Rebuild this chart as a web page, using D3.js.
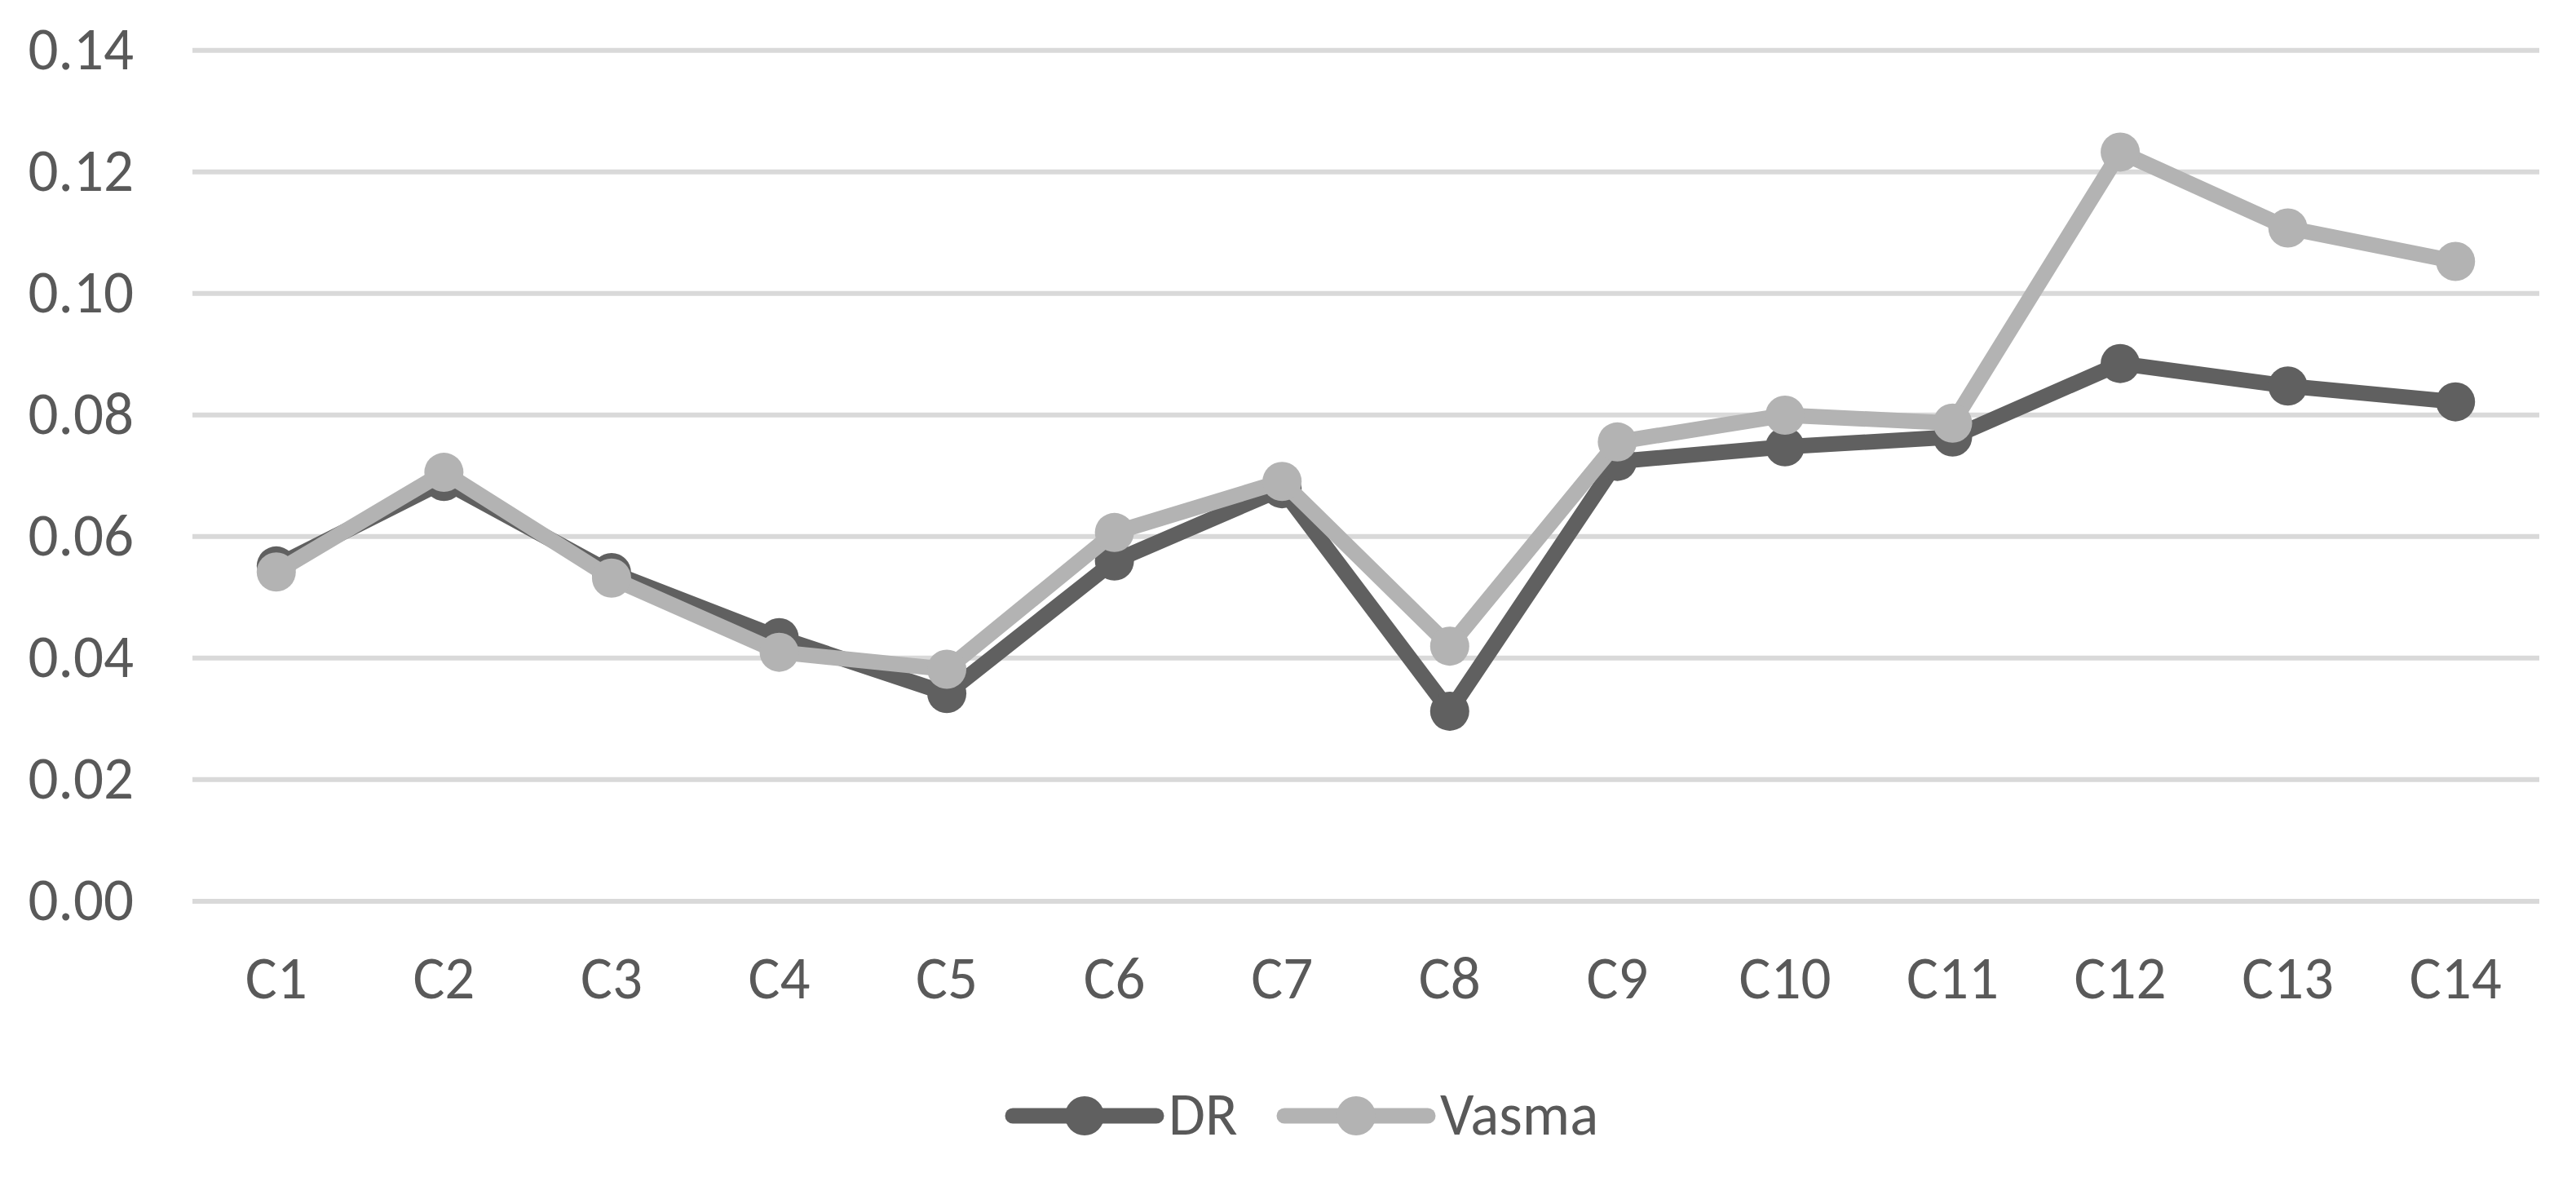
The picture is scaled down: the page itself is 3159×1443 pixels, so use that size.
<!DOCTYPE html>
<html>
<head>
<meta charset="utf-8">
<script src="https://cdn.jsdelivr.net/npm/d3@7"></script>
<style>
  html, body { margin: 0; padding: 0; background: #ffffff; }
  svg { display: block; }
</style>
</head>
<body>
<svg id="chart" width="3159" height="1443"></svg>
<script>
const categories = ["C1","C2","C3","C4","C5","C6","C7","C8","C9","C10","C11","C12","C13","C14"];
const drValues    = [0.0551,0.0690,0.0540,0.0433,0.0341,0.0559,0.0678,0.0312,0.0723,0.0747,0.0763,0.0884,0.0847,0.0821];
const vasmaValues = [0.0541,0.0705,0.0531,0.0409,0.0381,0.0606,0.0690,0.0419,0.0755,0.0799,0.0786,0.1232,0.1107,0.1052];
const yTicks = [0, 0.02, 0.04, 0.06, 0.08, 0.10, 0.12, 0.14];
const seriesNames = ["DR", "Vasma"];
const seriesColors = ["#606060", "#b3b3b3"];

const W = 3159, H = 1443;
const plotLeft = 236, plotRight = 3114, plotTop = 61.2, plotBottom = 1104.4;
const FONT = "Carlito, Calibri, Roboto, 'Liberation Sans', sans-serif";
const FS = 73;
const textColor = "#595959";

const svg = d3.select("#chart");
svg.append("rect").attr("width", W).attr("height", H).attr("fill", "#ffffff");

const x = d3.scaleBand().domain(categories).range([plotLeft, plotRight]).padding(0);
const y = d3.scaleLinear().domain([0, 0.14]).range([plotBottom, plotTop]);

// Y axis with gridlines
const yAxis = d3.axisLeft(y).tickValues(yTicks).tickSize(-(plotRight - plotLeft)).tickPadding(72).tickFormat(d3.format(".2f"));
const gy = svg.append("g").attr("transform", `translate(${plotLeft},0)`).call(yAxis);
gy.select(".domain").remove();
gy.selectAll(".tick line").attr("stroke", "#d9d9d9").attr("stroke-width", 6);
gy.selectAll(".tick text").attr("fill", textColor).attr("font-family", FONT).attr("font-size", FS).attr("dy", "0.32em");

// X axis labels
const xAxis = d3.axisBottom(x).tickSize(0).tickPadding(68);
const gx = svg.append("g").attr("transform", `translate(0,${plotBottom})`).call(xAxis);
gx.select(".domain").remove();
gx.selectAll(".tick text").attr("fill", textColor).attr("font-family", FONT).attr("font-size", FS);

// Series
const series = [drValues, vasmaValues];
const line = d3.line().x((d, i) => x(categories[i]) + x.bandwidth() / 2).y(d => y(d));
series.forEach((vals, si) => {
  const g = svg.append("g");
  g.append("path").datum(vals).attr("d", line)
    .attr("fill", "none").attr("stroke", seriesColors[si]).attr("stroke-width", 19)
    .attr("stroke-linejoin", "round").attr("stroke-linecap", "round");
  g.selectAll("circle").data(vals).join("circle")
    .attr("cx", (d, i) => x(categories[i]) + x.bandwidth() / 2)
    .attr("cy", d => y(d))
    .attr("r", 24)
    .attr("fill", seriesColors[si]);
});

// Legend
const legendY = 1368;
const legendItems = [
  { name: seriesNames[0], color: seriesColors[0], x0: 1242 },
  { name: seriesNames[1], color: seriesColors[1], x0: 1575 }
];
const lg = svg.append("g");
legendItems.forEach(it => {
  lg.append("line").attr("x1", it.x0).attr("x2", it.x0 + 176).attr("y1", legendY).attr("y2", legendY)
    .attr("stroke", it.color).attr("stroke-width", 19).attr("stroke-linecap", "round");
  lg.append("circle").attr("cx", it.x0 + 88).attr("cy", legendY).attr("r", 24).attr("fill", it.color);
  lg.append("text").attr("x", it.x0 + 191).attr("y", legendY + 23)
    .attr("fill", textColor).attr("font-family", FONT).attr("font-size", FS).text(it.name);
});
</script>
</body>
</html>
